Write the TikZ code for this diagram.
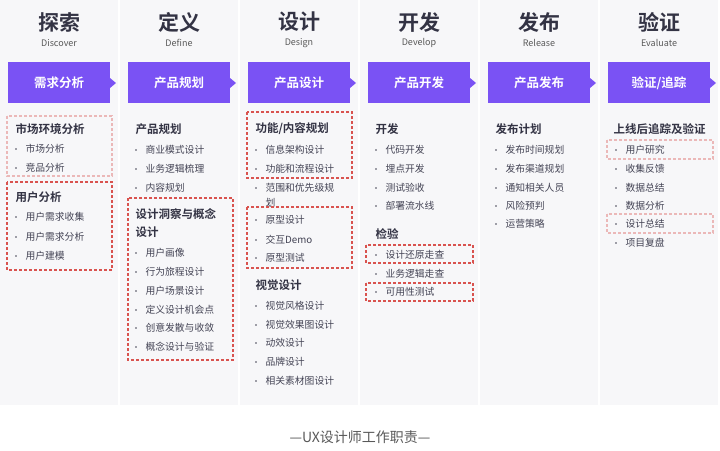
\documentclass[tikz,border=0pt]{standalone}
\usepackage{fontspec}
\setmainfont{Noto Sans CJK SC}
\newfontfamily\cjkb{Noto Sans CJK SC Bold}
\begin{document}
\begin{tikzpicture}[x=1pt,y=-1pt,
 panel/.style={fill=panelgray,draw=none},
 title/.style={font=\fontsize{21}{22}\selectfont\cjkb,text=titlecol},
 sub/.style={font=\fontsize{9}{10}\selectfont,text=gray!70!black},
 banner/.style={fill=uxpurple,draw=none},
 btext/.style={font=\fontsize{12.5}{13}\selectfont\cjkb,text=white},
 head/.style={font=\fontsize{11.5}{12}\selectfont\cjkb,text=titlecol,anchor=west},
 item/.style={font=\fontsize{9.8}{10}\selectfont,text=itemcol,anchor=west},
 redbox/.style={draw=boxred,dashed,line width=1.3pt,dash pattern=on 3pt off 2pt},
 pinkbox/.style={draw=boxpink,dashed,line width=1.1pt,dash pattern=on 3pt off 2pt}]
\definecolor{panelgray}{HTML}{F7F7F9}
\definecolor{uxpurple}{HTML}{7A52F4}
\definecolor{titlecol}{HTML}{333344}
\definecolor{itemcol}{HTML}{444455}
\definecolor{boxred}{HTML}{D9534F}
\definecolor{boxpink}{HTML}{EBB8B8}
\useasboundingbox (0,0) rectangle (720,450);
\fill[white] (0,0) rectangle (720,450);
\newcommand\uxcol[5]{% index x0 title sub banner
 \fill[panelgray] (#2,0) rectangle (#2+118,405);
 \node[title] (t#1) at (#2+59,22) {#3};
 \node[sub] (s#1) at (#2+59,43) {#4};
 \fill[uxpurple] (#2+8,62) rectangle (#2+110,103);
 \fill[uxpurple] (#2+110,78) -- (#2+116,83) -- (#2+110,88) -- cycle;
 \node[btext] (b#1) at (#2+59,83) {#5};}
\uxcol{1}{0}{探索}{Discover}{需求分析}
\uxcol{2}{120}{定义}{Define}{产品规划}
\uxcol{3}{240}{设计}{Design}{产品设计}
\uxcol{4}{360}{开发}{Develop}{产品开发}
\uxcol{5}{480}{发布}{Release}{产品发布}
\uxcol{6}{600}{验证}{Evaluate}{验证/追踪}
\newcommand\uxhead[4]{\node[head] (h#1) at (#2,#3) {#4};}
\newcommand\uxitem[4]{\node[item] (i#1) at (#2+10,#3) {#4};\fill[itemcol] (#2+4,#3) circle (0.9);}
% col1
\uxhead{a}{12}{129}{市场环境分析}
\uxitem{a1}{12}{149}{市场分析}
\uxitem{a2}{12}{168}{竞品分析}
\uxhead{b}{12}{197}{用户分析}
\uxitem{b1}{12}{217}{用户需求收集}
\uxitem{b2}{12}{237}{用户需求分析}
\uxitem{b3}{12}{256}{用户建模}
% col2
\uxhead{c}{132}{129}{产品规划}
\uxitem{c1}{132}{150}{商业模式设计}
\uxitem{c2}{132}{169}{业务逻辑梳理}
\uxitem{c3}{132}{188}{内容规划}
\uxhead{d}{132}{214}{设计洞察与概念}
\uxhead{d0}{132}{232}{设计}
\uxitem{d1}{132}{253}{用户画像}
\uxitem{d2}{132}{272}{行为旅程设计}
\uxitem{d3}{132}{291}{用户场景设计}
\uxitem{d4}{132}{310}{定义设计机会点}
\uxitem{d5}{132}{328}{创意发散与收敛}
\uxitem{d6}{132}{347}{概念设计与验证}
% col3
\uxhead{e}{252}{129}{功能/内容规划}
\uxitem{e1}{252}{150}{信息架构设计}
\uxitem{e2}{252}{169}{功能和流程设计}
\uxitem{e3}{252}{188}{范围和优先级规}
\node[item] (ie3b) at (262,203) {划};
\uxitem{e4}{252}{220}{原型设计}
\uxitem{e5}{252}{240}{交互Demo}
\uxitem{e6}{252}{258}{原型测试}
\uxhead{f}{252}{285}{视觉设计}
\uxitem{f1}{252}{306}{视觉风格设计}
\uxitem{f2}{252}{325}{视觉效果图设计}
\uxitem{f3}{252}{343}{动效设计}
\uxitem{f4}{252}{362}{品牌设计}
\uxitem{f5}{252}{381}{相关素材图设计}
% col4
\uxhead{g}{372}{129}{开发}
\uxitem{g1}{372}{150}{代码开发}
\uxitem{g2}{372}{169}{埋点开发}
\uxitem{g3}{372}{188}{测试验收}
\uxitem{g4}{372}{206}{部署流水线}
\uxhead{k}{372}{234}{检验}
\uxitem{k1}{372}{255}{设计还原走查}
\uxitem{k2}{372}{274}{业务逻辑走查}
\uxitem{k3}{372}{292}{可用性测试}
% col5
\uxhead{m}{492}{129}{发布计划}
\uxitem{m1}{492}{150}{发布时间规划}
\uxitem{m2}{492}{169}{发布渠道规划}
\uxitem{m3}{492}{188}{通知相关人员}
\uxitem{m4}{492}{206}{风险预判}
\uxitem{m5}{492}{224}{运营策略}
% col6
\uxhead{n}{610}{129}{上线后追踪及验证}
\uxitem{n1}{612}{150}{用户研究}
\uxitem{n2}{612}{169}{收集反馈}
\uxitem{n3}{612}{188}{数据总结}
\uxitem{n4}{612}{206}{数据分析}
\uxitem{n5}{612}{224}{设计总结}
\uxitem{n6}{612}{243}{项目复盘}
% dashed boxes
\draw[pinkbox] (7,116) rectangle (112,176);
\draw[redbox] (7,182) rectangle (112,270);
\draw[redbox] (128,198) rectangle (233,360);
\draw[redbox] (247,112) rectangle (352,178);
\draw[redbox] (247,207) rectangle (352,268);
\draw[redbox] (366,245) rectangle (473,263);
\draw[redbox] (366,283) rectangle (473,301);
\draw[pinkbox] (607,140) rectangle (713,159);
\draw[pinkbox] (607,214) rectangle (713,233);
\node[font=\fontsize{14}{15}\selectfont,text=gray!70!black] (cap) at (360,437) {—UX设计师工作职责—};
\end{tikzpicture}
\end{document}
